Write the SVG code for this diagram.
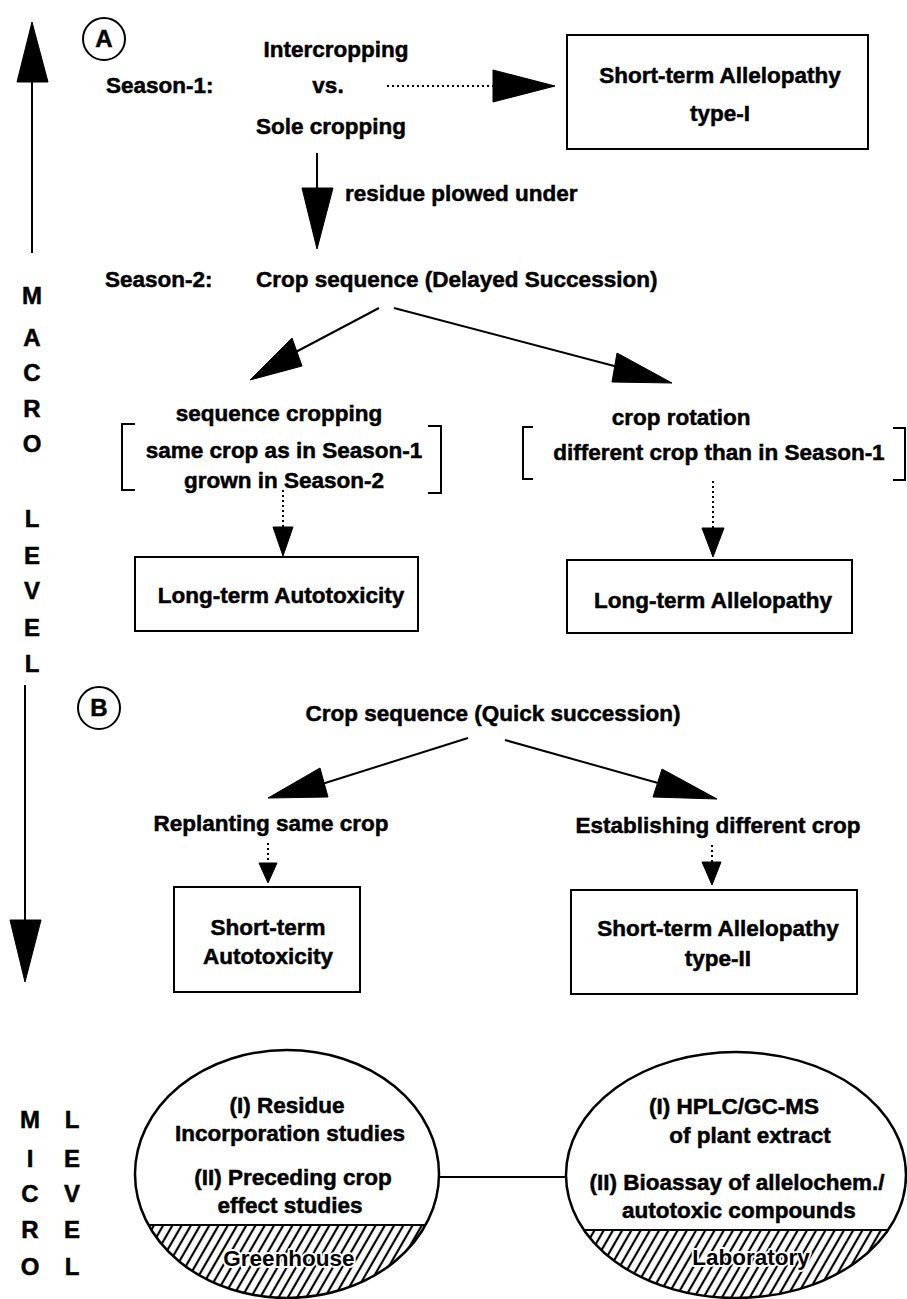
<svg xmlns="http://www.w3.org/2000/svg" width="907" height="1299" viewBox="0 0 907 1299">
<style>
text{font-family:"Liberation Sans",Arial,sans-serif;font-weight:bold;font-size:22.5px;fill:#000;stroke:#000;stroke-width:0.5}
.c{text-anchor:middle}
.ax{font-size:24px;text-anchor:middle}
.box{fill:#fff;stroke:#000;stroke-width:2}
.ln{stroke:#000;stroke-width:2;fill:none}
.dot{stroke:#000;stroke-width:2;fill:none;stroke-dasharray:2 3}
.hd{fill:#000;stroke:#000;stroke-width:1}
.br{stroke:#000;stroke-width:2;fill:none}
.ell{fill:none;stroke:#000;stroke-width:2.5}
.halo{stroke:#fff;stroke-width:4;paint-order:stroke;stroke-linejoin:round}
</style>
<defs>
<pattern id="hatch" width="8" height="8" patternUnits="userSpaceOnUse" patternTransform="rotate(30)">
<line x1="2" y1="0" x2="2" y2="8" stroke="#000" stroke-width="2.2"/>
</pattern>
<clipPath id="clipG"><ellipse cx="287" cy="1174" rx="152" ry="124"/></clipPath>
<clipPath id="clipL"><ellipse cx="736" cy="1175" rx="170" ry="123"/></clipPath>
</defs>
<rect width="907" height="1299" fill="#fff"/>

<g id="axis">
<line class="ln" x1="32" y1="82" x2="32" y2="253"/>
<polygon class="hd" points="32,22 17,82 48,82"/>
<text class="ax" x="32" y="304">M</text>
<text class="ax" x="32" y="346">A</text>
<text class="ax" x="32" y="381">C</text>
<text class="ax" x="32" y="417">R</text>
<text class="ax" x="32" y="452">O</text>
<text class="ax" x="32" y="527">L</text>
<text class="ax" x="32" y="564">E</text>
<text class="ax" x="32" y="599">V</text>
<text class="ax" x="32" y="636">E</text>
<text class="ax" x="32" y="672">L</text>
<line class="ln" x1="25" y1="685" x2="25" y2="925"/>
<polygon class="hd" points="25,982 10,920 41,920"/>
<text class="ax" x="30" y="1128">M</text>
<text class="ax" x="30" y="1167">I</text>
<text class="ax" x="30" y="1202">C</text>
<text class="ax" x="30" y="1238">R</text>
<text class="ax" x="30" y="1275">O</text>
<text class="ax" x="72" y="1128">L</text>
<text class="ax" x="72" y="1167">E</text>
<text class="ax" x="72" y="1202">V</text>
<text class="ax" x="72" y="1238">E</text>
<text class="ax" x="72" y="1275">L</text>
</g>

<g id="labelA">
<circle cx="104" cy="39" r="21" fill="none" stroke="#000" stroke-width="2"/>
<text class="ax" x="104" y="47">A</text>
</g>
<g id="labelB">
<circle cx="99" cy="708" r="21" fill="none" stroke="#000" stroke-width="2"/>
<text class="ax" x="99" y="716">B</text>
</g>

<g id="season1">
<text x="106" y="93">Season-1:</text>
<text class="c" x="336" y="57">Intercropping</text>
<text class="c" x="328" y="93">vs.</text>
<text class="c" x="331" y="134">Sole cropping</text>
</g>

<g id="stA1">
<rect class="box" x="567" y="35" width="301" height="114"/>
<text class="c" x="720" y="83">Short-term Allelopathy</text>
<text class="c" x="720" y="121">type-I</text>
</g>

<g id="residue">
<text x="345" y="201">residue plowed under</text>
</g>

<g id="season2">
<text x="105" y="287">Season-2:</text>
<text x="256" y="287">Crop sequence (Delayed Succession)</text>
</g>

<g id="seqCropping">
<text class="c" x="279" y="421">sequence cropping</text>
<path class="br" d="M135,424 H122 V490 H135"/>
<text class="c" x="284" y="458">same crop as in Season-1</text>
<text class="c" x="284" y="488">grown in Season-2</text>
<path class="br" d="M428,426 H441 V493 H428"/>
</g>

<g id="cropRotation">
<text class="c" x="681" y="425">crop rotation</text>
<path class="br" d="M533,427 H523 V479 H533"/>
<text class="c" x="719" y="460">different crop than in Season-1</text>
<path class="br" d="M893,428 H905 V480 H893"/>
</g>

<g id="ltAuto">
<rect class="box" x="135" y="557" width="283" height="74"/>
<text class="c" x="281" y="603">Long-term Autotoxicity</text>
</g>

<g id="ltAllelo">
<rect class="box" x="567" y="560" width="285" height="73"/>
<text class="c" x="713" y="608">Long-term Allelopathy</text>
</g>

<g id="quickSeq">
<text class="c" x="493" y="721">Crop sequence (Quick succession)</text>
</g>

<g id="replant">
<text class="c" x="271" y="831">Replanting same crop</text>
</g>
<g id="establish">
<text class="c" x="718" y="833">Establishing different crop</text>
</g>

<g id="stAuto">
<rect class="box" x="174" y="887" width="186" height="105"/>
<text class="c" x="268" y="935">Short-term</text>
<text class="c" x="268" y="964">Autotoxicity</text>
</g>

<g id="stA2">
<rect class="box" x="571" y="890" width="286" height="104"/>
<text class="c" x="718" y="936">Short-term Allelopathy</text>
<text class="c" x="718" y="966">type-II</text>
</g>

<g id="greenhouse">
<g clip-path="url(#clipG)">
<rect x="130" y="1225" width="320" height="80" fill="url(#hatch)"/>
</g>
<line x1="148" y1="1225" x2="426" y2="1225" stroke="#000" stroke-width="2"/>
<ellipse class="ell" cx="287" cy="1174" rx="152" ry="124"/>
<text class="c" x="287" y="1113">(I) Residue</text>
<text class="c" x="290" y="1141">Incorporation studies</text>
<text class="c" x="293" y="1185">(II) Preceding crop</text>
<text class="c" x="290" y="1213">effect studies</text>
<text class="c halo" x="289" y="1266">Greenhouse</text>
</g>

<g id="laboratory">
<g clip-path="url(#clipL)">
<rect x="560" y="1230" width="350" height="75" fill="url(#hatch)"/>
</g>
<line x1="584" y1="1230" x2="888" y2="1230" stroke="#000" stroke-width="2"/>
<ellipse class="ell" cx="736" cy="1175" rx="170" ry="123"/>
<text class="c" x="734" y="1114">(I) HPLC/GC-MS</text>
<text class="c" x="750" y="1143">of plant extract</text>
<text class="c" x="737" y="1190">(II) Bioassay of allelochem./</text>
<text class="c" x="739" y="1218">autotoxic compounds</text>
<text class="c halo" x="751" y="1265">Laboratory</text>
</g>

<g id="connectors">
<line class="dot" x1="387" y1="86" x2="495" y2="86"/>
<polygon class="hd" points="555,86 493,70 493,102"/>
<line class="ln" x1="317" y1="153" x2="317" y2="192"/>
<polygon class="hd" points="317,249 302,188 333,188"/>
<line class="ln" x1="379" y1="308" x2="292" y2="354"/>
<polygon class="hd" points="250,380 292,338 302,366"/>
<line class="ln" x1="394" y1="308" x2="618" y2="367"/>
<polygon class="hd" points="672,383 617,353 612,382"/>
<line class="dot" x1="283" y1="490" x2="283" y2="528"/>
<polygon class="hd" points="283,556 273,527 293,527"/>
<line class="dot" x1="713" y1="481" x2="713" y2="529"/>
<polygon class="hd" points="713,557 702,528 724,528"/>
<line class="ln" x1="468" y1="738" x2="322" y2="784"/>
<polygon class="hd" points="268,798 320,768 328,797"/>
<line class="ln" x1="505" y1="740" x2="658" y2="783"/>
<polygon class="hd" points="717,799 662,769 653,797"/>
<line class="dot" x1="268" y1="843" x2="268" y2="864"/>
<polygon class="hd" points="268,883 259,863 277,863"/>
<line class="dot" x1="712" y1="845" x2="712" y2="863"/>
<polygon class="hd" points="712,885 702,862 721,862"/>
<line class="ln" x1="439" y1="1177" x2="566" y2="1177"/>
</g>
</svg>
